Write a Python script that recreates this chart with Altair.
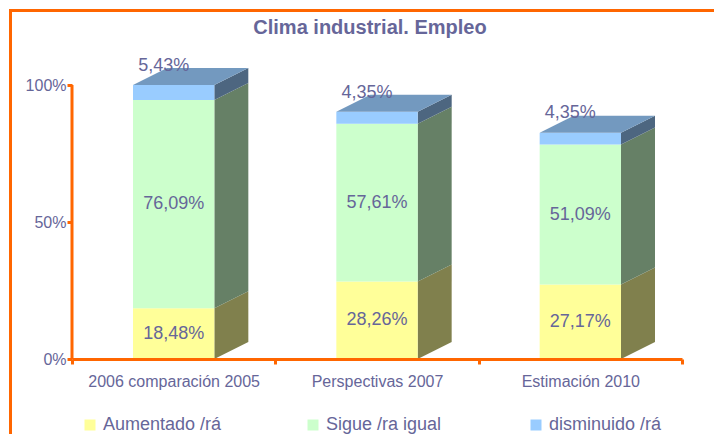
import altair as alt
import pandas as pd

# ---- data ----
categories = ["2006 comparación 2005", "Perspectivas 2007", "Estimación 2010"]
series = ["Aumentado /rá", "Sigue /ra igual", "disminuido /rá"]
aumentado = [18.48, 28.26, 27.17]
sigue_igual = [76.09, 57.61, 51.09]
disminuido = [5.43, 4.35, 4.35]
y_ticks = [0, 50, 100]

# ---- style ----
front_colors = ["#FFFF99", "#CCFFCC", "#99CCFF"]
side_colors = ["#80804D", "#668066", "#4D6680"]
top_color = "#7399BF"
TXT = "#666699"
ORANGE = "#FF6600"
FONT = "Liberation Sans"

W, H = 610, 302
PX_PER_PCT = 2.74
YMAX = H / PX_PER_PCT
HALF = 0.2            # half bar width, in band units
DX = 34 / (W / 3)     # 3D depth, x (band units)
DY = 17 / PX_PER_PCT  # 3D depth, y (percent units)

values = [aumentado, sigue_igual, disminuido]
front, side, top, mid_labels, top_labels = [], [], [], [], []
for i, cat in enumerate(categories):
    base = 0.0
    c = i + 0.5
    for j, s in enumerate(series):
        v = values[j][i]
        y0, y1 = base, base + v
        base = y1
        key = f"{i}-{j}"
        front.append(dict(cat=cat, series=s, x0=c - HALF, x1=c + HALF, y0=y0, y1=y1))
        side.append(dict(face=key, series=s, x=c + HALF, lo=y0, hi=y1))
        side.append(dict(face=key, series=s, x=c + HALF + DX, lo=y0 + DY, hi=y1 + DY))
        label = f"{v:.2f}%".replace(".", ",")
        if j == len(series) - 1:
            top.append(dict(face=key, y=y1, xa=c - HALF, xb=c + HALF))
            top.append(dict(face=key, y=y1 + DY, xa=c - HALF + DX, xb=c + HALF + DX))
            top_labels.append(dict(x=c, y=y1 + 7, text=label))
        else:
            mid_labels.append(dict(x=c, y=(y0 + y1) / 2, text=label))

xq = alt.Scale(domain=[0, 3], nice=False, zero=False)
ys = alt.Scale(domain=[0, YMAX], nice=False, zero=True)

# category axis (band scale, ticks at band edges)
axis_layer = alt.Chart(pd.DataFrame({"cat": categories})).mark_rect(opacity=0).encode(
    x=alt.X("cat:N", sort=categories,
            scale=alt.Scale(paddingInner=0, paddingOuter=0),
            axis=alt.Axis(orient="bottom", title=None, tickBand="extent",
                          domainColor=ORANGE, domainWidth=3,
                          tickColor=ORANGE, tickWidth=3, tickSize=5,
                          labelAngle=0, labelColor=TXT, labelFont=FONT,
                          labelFontSize=16, labelPadding=9))
)

front_layer = alt.Chart(pd.DataFrame(front)).mark_rect().encode(
    x=alt.X("x0:Q", scale=xq, axis=None),
    x2="x1:Q",
    y=alt.Y("y0:Q", scale=ys, stack=None,
            axis=alt.Axis(values=y_ticks, labelExpr="datum.value + '%'",
                          domain=False, grid=False, title=None,
                          tickColor=ORANGE, tickWidth=3, tickSize=5,
                          labelColor=TXT, labelFont=FONT, labelFontSize=16,
                          labelPadding=1)),
    y2="y1:Q",
    color=alt.Color("series:N", sort=series,
                    scale=alt.Scale(domain=series, range=front_colors),
                    legend=alt.Legend(title=None, orient="none", legendX=9, legendY=359,
                                      direction="horizontal", columns=3, gridAlign="all",
                                      symbolType="square",
                                      symbolSize=121, symbolStrokeWidth=0,
                                      symbolOpacity=1,
                                      labelFont=FONT, labelFontSize=18, labelColor=TXT,
                                      labelOffset=4, columnPadding=82)),
)

side_layer = alt.Chart(pd.DataFrame(side)).mark_area().encode(
    x=alt.X("x:Q", scale=xq, axis=None),
    y=alt.Y("lo:Q", scale=ys, stack=None),
    y2="hi:Q",
    detail="face:N",
    color=alt.Color("series:N", scale=alt.Scale(domain=series, range=side_colors), legend=None),
)

top_layer = alt.Chart(pd.DataFrame(top)).mark_area(orient="horizontal", color=top_color).encode(
    y=alt.Y("y:Q", scale=ys),
    x=alt.X("xa:Q", scale=xq, axis=None, stack=None),
    x2="xb:Q",
    detail="face:N",
)

y_rule = alt.Chart(pd.DataFrame({"a": [min(y_ticks)], "b": [max(y_ticks)]})).mark_rule(
    color=ORANGE, strokeWidth=3).encode(
    x=alt.value(0),
    y=alt.Y("a:Q", scale=ys),
    y2="b:Q",
)

mid_text = alt.Chart(pd.DataFrame(mid_labels)).mark_text(
    font=FONT, fontSize=18, color=TXT, baseline="middle").encode(
    x=alt.X("x:Q", scale=xq, axis=None),
    y=alt.Y("y:Q", scale=ys),
    text="text:N",
)

top_text = alt.Chart(pd.DataFrame(top_labels)).mark_text(
    font=FONT, fontSize=18, color=TXT, baseline="middle", dx=-10).encode(
    x=alt.X("x:Q", scale=xq, axis=None),
    y=alt.Y("y:Q", scale=ys),
    text="text:N",
)

frame = alt.Chart(pd.DataFrame({"a": [0]})).mark_rect(
    fillOpacity=0, stroke=ORANGE, strokeWidth=3).encode(
    x=alt.value(-61.5), x2=alt.value(1000),
    y=alt.value(-46.5), y2=alt.value(1000),
)

chart = alt.layer(
    axis_layer, frame, side_layer, front_layer, top_layer, y_rule, mid_text, top_text
).resolve_scale(
    x="independent", color="independent"
).properties(
    width=W, height=H,
    title=alt.TitleParams("Clima industrial. Empleo", font=FONT, fontSize=20,
                          fontWeight="bold", color=TXT, anchor="middle",
                          frame="group", dx=-7, dy=43, offset=14),
    autosize=alt.AutoSizeParams(type="none"),
    padding={"left": 64, "top": 49, "right": 32, "bottom": 75},
).configure_view(stroke=None)

chart.save("out.html", embed_options={"renderer": "svg", "actions": False})
